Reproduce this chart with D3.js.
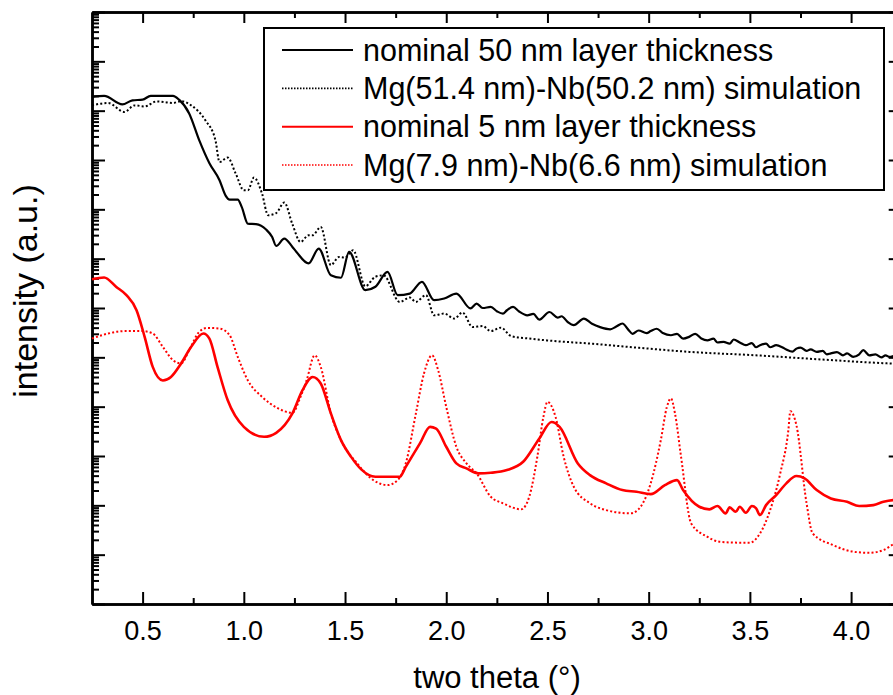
<!DOCTYPE html>
<html>
<head>
<meta charset="utf-8">
<script src="https://cdn.jsdelivr.net/npm/d3@7"></script>
<style>
  body { margin: 0; background: #fff; }
  text { font-family: "Liberation Sans", Arial, sans-serif; }
</style>
</head>
<body>
<script>
const W = 893, H = 695;
const margin = { left: 92, top: 12, right: 901.7, bottom: 604 };

// measured series: [two theta (deg), intensity (a.u.)]
const nominal50 = [[0.25,1.9e10],[0.31,2.0e10],[0.40,1.34e10],[0.45,1.62e10],[0.50,1.67e10],[0.54,2.0e10],[0.65,2.0e10],[0.68,1.67e10],[0.73,8.8e9],[0.78,2.5e9],[0.83,8.6e8],[0.88,3.9e8],[0.91,1.9e8],[0.93,1.57e8],[0.97,1.57e8],[0.99,1.11e8],[1.02,5.1e7],[1.06,5.0e7],[1.11,3.9e7],[1.14,2.75e7],[1.16,1.81e7],[1.20,2.55e7],[1.24,1.73e7],[1.26,1.37e7],[1.32,8.0e6],[1.37,1.6e7],[1.43,4.6e6],[1.48,4.1e6],[1.52,1.37e7],[1.60,2.3e6],[1.65,2.7e6],[1.71,5.4e6],[1.76,1.82e6],[1.82,1.96e6],[1.88,3.4e6],[1.94,1.44e6],[1.99,1.56e6],[2.05,1.96e6],[2.12,9.8e5],[2.15,1.23e6],[2.18,1.0e6],[2.22,1.05e6],[2.25,8.6e5],[2.28,7.7e5],[2.30,9.0e5],[2.33,1.05e6],[2.36,8.5e5],[2.40,7.1e5],[2.43,7.6e5],[2.46,5.8e5],[2.51,8.3e5],[2.55,6.4e5],[2.57,6.8e5],[2.60,5.2e5],[2.63,4.5e5],[2.68,6.1e5],[2.72,4.8e5],[2.76,4.1e5],[2.81,3.7e5],[2.84,4.2e5],[2.87,4.85e5],[2.90,3.6e5],[2.92,3.0e5],[2.95,3.5e5],[2.99,3.1e5],[3.01,3.4e5],[3.04,3.8e5],[3.07,3.1e5],[3.11,2.8e5],[3.14,3.0e5],[3.17,2.4e5],[3.20,2.6e5],[3.23,3.0e5],[3.26,2.4e5],[3.29,2.2e5],[3.32,2.4e5],[3.34,2.0e5],[3.37,2.06e5],[3.40,1.9e5],[3.42,2.3e5],[3.45,2.0e5],[3.48,1.76e5],[3.51,1.95e5],[3.53,1.6e5],[3.55,1.76e5],[3.58,1.9e5],[3.60,1.6e5],[3.63,1.76e5],[3.66,1.6e5],[3.68,1.44e5],[3.71,1.3e5],[3.73,1.5e5],[3.75,1.58e5],[3.78,1.35e5],[3.80,1.45e5],[3.83,1.29e5],[3.86,1.35e5],[3.88,1.15e5],[3.90,1.2e5],[3.93,1.28e5],[3.96,1.1e5],[3.98,1.2e5],[4.01,1.02e5],[4.04,1.15e5],[4.06,1.4e5],[4.09,1.1e5],[4.12,1.15e5],[4.15,1.0e5],[4.17,1.1e5],[4.19,1.02e5],[4.22,1.08e5],[4.25,1.0e5]];

const sim50 = [[0.25,1.28e10],[0.33,1.43e10],[0.41,9.4e9],[0.46,1.28e10],[0.51,1.22e10],[0.57,1.54e10],[0.65,1.43e10],[0.69,1.56e10],[0.74,1.28e10],[0.81,6.4e9],[0.86,2.5e9],[0.88,9.1e8],[0.92,1.12e9],[0.96,5.3e8],[1.00,2.43e8],[1.02,2.43e8],[1.05,4.4e8],[1.09,2.08e8],[1.12,7.6e7],[1.16,8.4e7],[1.20,1.37e8],[1.24,5.0e7],[1.28,2.18e7],[1.32,2.98e7],[1.34,2.98e7],[1.38,4.4e7],[1.43,7.4e6],[1.47,1.08e7],[1.50,1.05e7],[1.54,1.48e7],[1.60,2.76e6],[1.65,4.3e6],[1.69,4.6e6],[1.77,1.33e6],[1.82,1.63e6],[1.85,1.33e6],[1.90,1.82e6],[1.94,7.1e5],[1.99,7.7e5],[2.04,6.1e5],[2.08,8.1e5],[2.13,4.1e5],[2.18,4.3e5],[2.22,3.4e5],[2.27,4.0e5],[2.32,2.7e5],[2.41,2.4e5],[2.50,2.2e5],[2.71,1.9e5],[2.96,1.55e5],[3.20,1.29e5],[3.53,1.1e5],[3.86,9.0e4],[4.19,7.5e4],[4.25,7.3e4]];

const nominal5 = [[0.25,3.83e6],[0.31,4.14e6],[0.37,2.67e6],[0.42,1.82e6],[0.47,9.0e5],[0.51,2.6e5],[0.55,6.4e4],[0.60,3.4e4],[0.64,4.0e4],[0.69,7.5e4],[0.74,1.63e5],[0.80,3.04e5],[0.83,2.4e5],[0.87,6.4e4],[0.92,1.36e4],[1.00,3.9e3],[1.10,2.45e3],[1.16,2.95e3],[1.24,7.3e3],[1.29,2.16e4],[1.34,4.0e4],[1.38,2.95e4],[1.43,7.3e3],[1.48,2.1e3],[1.53,9.6e2],[1.58,535],[1.65,379],[1.71,379],[1.77,379],[1.80,604],[1.87,1.8e3],[1.92,3.9e3],[1.95,3.6e3],[2.00,1.54e3],[2.05,708],[2.10,561],[2.16,444],[2.22,457],[2.30,518],[2.38,763],[2.46,2.27e3],[2.52,4.9e3],[2.56,3.9e3],[2.65,708],[2.71,410],[2.79,279],[2.87,204],[2.94,188],[3.01,169],[3.08,257],[3.14,325],[3.17,204],[3.25,93.5],[3.30,82.8],[3.34,96.6],[3.38,68.7],[3.40,91],[3.43,74],[3.45,93.5],[3.48,70.7],[3.51,96.6],[3.53,88],[3.55,63.5],[3.58,101],[3.63,161],[3.68,279],[3.73,392],[3.77,352],[3.83,204],[3.90,138],[3.98,118],[4.04,96.6],[4.11,101],[4.16,118],[4.21,128],[4.25,130]];

const sim5 = [[0.25,2.4e5],[0.33,3.04e5],[0.41,3.4e5],[0.50,3.4e5],[0.55,3.04e5],[0.60,1.63e5],[0.65,8.75e4],[0.69,7.5e4],[0.73,1.4e5],[0.78,3.3e5],[0.82,3.95e5],[0.88,3.84e5],[0.93,2.8e5],[0.97,1.02e5],[1.02,3.4e4],[1.09,1.58e4],[1.17,9.2e3],[1.24,7.5e3],[1.28,1.58e4],[1.31,3.4e4],[1.35,1.1e5],[1.38,6.4e4],[1.43,7.3e3],[1.48,2.1e3],[1.56,708],[1.64,325],[1.71,257],[1.76,325],[1.80,708],[1.85,7.3e3],[1.89,4.7e4],[1.93,1.1e5],[1.96,5.5e4],[2.00,9.9e3],[2.05,1.54e3],[2.10,708],[2.15,444],[2.22,149],[2.28,110],[2.37,83],[2.41,149],[2.45,964],[2.48,6.2e3],[2.50,1.25e4],[2.54,6.2e3],[2.58,964],[2.63,238],[2.71,110],[2.79,80],[2.91,68.7],[2.96,93.5],[3.01,279],[3.06,2.1e3],[3.09,9.9e3],[3.11,1.47e4],[3.13,7.3e3],[3.16,964],[3.21,43],[3.29,23],[3.35,18.3],[3.45,17.5],[3.50,17.5],[3.55,27],[3.60,80],[3.65,444],[3.69,3.3e3],[3.70,8.1e3],[3.73,4.2e3],[3.78,110],[3.81,27],[3.91,15.7],[4.01,11.5],[4.09,10.9],[4.16,12.4],[4.21,16.4],[4.25,19]];

const legendLabels = [
  "nominal 50 nm layer thickness",
  "Mg(51.4 nm)-Nb(50.2 nm) simulation",
  "nominal 5 nm layer thickness",
  "Mg(7.9 nm)-Nb(6.6 nm) simulation"
];
const xMajor = [0.5, 1.0, 1.5, 2.0, 2.5, 3.0, 3.5, 4.0];
const xMinor = [0.75, 1.25, 1.75, 2.25, 2.75, 3.25, 3.75];

const series = [
  { data: nominal50, color: "#000", width: 2.2, dash: null },
  { data: sim50, color: "#000", width: 2, dash: "2,2.2" },
  { data: nominal5, color: "#ff0000", width: 2.6, dash: null },
  { data: sim5, color: "#ff0000", width: 2, dash: "2,2.2" }
];

const x = d3.scaleLinear().domain([0.25, 4.25]).range([margin.left, margin.right]);
const y = d3.scaleLog().domain([1, 1e12]).range([margin.bottom, margin.top]);

const yMajor = d3.range(0, 13).map(e => Math.pow(10, e));
const yMinor = [];
for (let e = 0; e < 12; e++) for (let m = 2; m <= 9; m++) yMinor.push(m * Math.pow(10, e));

const svg = d3.select("body").append("svg")
  .attr("width", W).attr("height", H);

// axes (ticks point inward)
function styleAxis(g, sw) {
  g.select(".domain").attr("stroke-width", sw);
  g.selectAll(".tick line").attr("stroke-width", 2);
}

svg.append("g").attr("transform", `translate(0,${margin.bottom})`)
  .call(d3.axisBottom(x).tickValues(xMinor).tickSize(-6).tickSizeOuter(0).tickFormat(""))
  .call(g => styleAxis(g, 2.5));
svg.append("g").attr("transform", `translate(0,${margin.bottom})`)
  .call(d3.axisBottom(x).tickValues(xMajor).tickSize(-12).tickSizeOuter(0)
    .tickFormat(d3.format(".1f")).tickPadding(17))
  .call(g => styleAxis(g, 2.5))
  .call(g => g.selectAll(".tick text")
    .attr("font-size", 27).attr("fill", "#000")
    .attr("font-family", "'Liberation Sans', Arial, sans-serif"));

svg.append("g").attr("transform", `translate(0,${margin.top})`)
  .call(d3.axisTop(x).tickValues(xMinor).tickSize(-6).tickSizeOuter(0).tickFormat(""))
  .call(g => styleAxis(g, 2.5));
svg.append("g").attr("transform", `translate(0,${margin.top})`)
  .call(d3.axisTop(x).tickValues(xMajor).tickSize(-11).tickSizeOuter(0).tickFormat(""))
  .call(g => styleAxis(g, 2.5));

svg.append("g").attr("transform", `translate(${margin.left},0)`)
  .call(d3.axisLeft(y).tickValues(yMinor).tickSize(-7).tickSizeOuter(0).tickFormat(""))
  .call(g => styleAxis(g, 2.5));
svg.append("g").attr("transform", `translate(${margin.left},0)`)
  .call(d3.axisLeft(y).tickValues(yMajor).tickSize(-13).tickSizeOuter(0).tickFormat(""))
  .call(g => styleAxis(g, 2.5));

svg.append("g").attr("transform", `translate(${margin.right},0)`)
  .call(d3.axisRight(y).tickValues(yMinor).tickSize(-7).tickSizeOuter(0).tickFormat(""))
  .call(g => styleAxis(g, 2.5));
svg.append("g").attr("transform", `translate(${margin.right},0)`)
  .call(d3.axisRight(y).tickValues(yMajor).tickSize(-13).tickSizeOuter(0).tickFormat(""))
  .call(g => styleAxis(g, 2.5));

// curves
const line = d3.line()
  .x(d => x(d[0]))
  .y(d => y(d[1]))
  .curve(d3.curveMonotoneX);

series.forEach(s => {
  svg.append("path")
    .datum(s.data)
    .attr("d", line)
    .attr("fill", "none")
    .attr("stroke", s.color)
    .attr("stroke-width", s.width)
    .attr("stroke-dasharray", s.dash)
    .attr("stroke-linejoin", "round");
});

// axis titles
svg.append("text")
  .attr("x", 497).attr("y", 688)
  .attr("text-anchor", "middle")
  .attr("font-size", 31)
  .text("two theta (°)");

svg.append("text")
  .attr("transform", "translate(37,291) rotate(-90)")
  .attr("text-anchor", "middle")
  .attr("font-size", 34)
  .text("intensity (a.u.)");

// legend
const legend = svg.append("g");
legend.append("rect")
  .attr("x", 264).attr("y", 28)
  .attr("width", 620).attr("height", 162)
  .attr("fill", "#fff").attr("stroke", "#000").attr("stroke-width", 2);

const rowY = d3.scalePoint().domain(d3.range(4)).range([50, 165]);
series.forEach((s, i) => {
  legend.append("line")
    .attr("x1", 282).attr("x2", 353)
    .attr("y1", rowY(i)).attr("y2", rowY(i))
    .attr("stroke", s.color)
    .attr("stroke-width", s.dash ? 1.6 : 2)
    .attr("stroke-dasharray", s.dash ? "1.5,1.5" : null);
  legend.append("text")
    .attr("x", 363).attr("y", rowY(i))
    .attr("dy", "0.35em")
    .attr("font-size", 30.5)
    .text(legendLabels[i]);
});
</script>
</body>
</html>
